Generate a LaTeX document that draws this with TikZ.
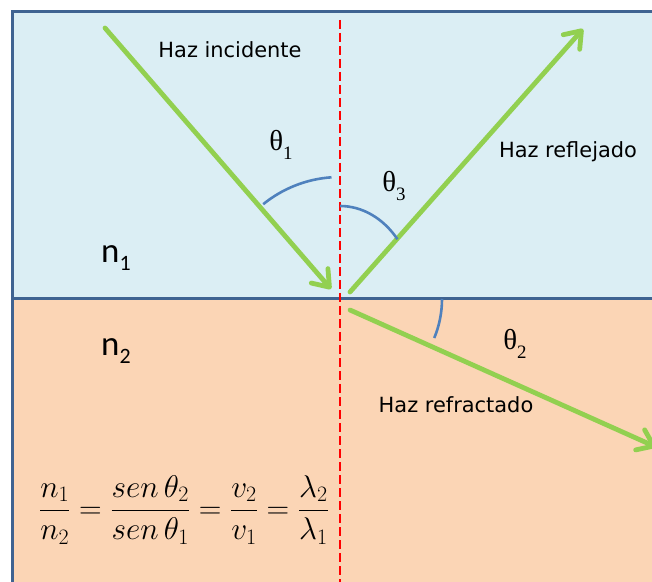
\RequirePackage{fix-cm}
\documentclass[tikz,border=0pt]{standalone}
\usepackage{amsmath}
\usepackage{fontspec}
\usepackage{xcolor}
\usepackage{tikz}
\usetikzlibrary{arrows.meta}

\newfontfamily\hazfont{DejaVu Sans}
\newfontfamily\indexfont{Carlito}
\newfontfamily\anglefont{Liberation Serif}

\definecolor{mediumone}{HTML}{DBEEF4}
\definecolor{mediumtwo}{HTML}{FBD5B5}
\definecolor{borderblue}{HTML}{3F6391}
\definecolor{raygreen}{HTML}{92D050}
\definecolor{arcblue}{HTML}{4F81BD}

\newcommand{\angsym}[1]{{\anglefont\fontsize{29}{32}\selectfont θ\raisebox{-0.3em}{\fontsize{19}{20}\selectfont #1}}}
\newcommand{\nsym}[1]{{\indexfont\fontsize{35}{38}\selectfont n\raisebox{-0.22em}{\fontsize{22}{23}\selectfont #1}}}

\begin{document}
\begin{tikzpicture}[x=1bp,y=1bp,
  ray/.style={raygreen, line width=4.8bp, line cap=round, -{Straight Barb[length=15bp,width=22bp,round]}},
  anglearc/.style={arcblue, line width=2.6bp},
  hazlabel/.style={font=\hazfont\fontsize{21}{24}\selectfont, inner sep=0pt}]
\useasboundingbox (0,0) rectangle (652,582);
\clip (0,0) rectangle (652,582);
\fill[white] (0,0) rectangle (652,582);

% two media
\draw[fill=mediumone, draw=borderblue, line width=3bp] (12,283) rectangle (670,570);
\draw[fill=mediumtwo, draw=borderblue, line width=3bp] (12,-20) rectangle (670,283);

% normal
\coordinate (O) at (340,283);
\coordinate (normal-top) at (340,562);
\coordinate (normal-bottom) at (340,-10);
\draw[red, line width=2.7bp, dash pattern=on 9bp off 4bp] (normal-top) -- (normal-bottom);

% rays
\coordinate (inc-start) at (105,554);
\coordinate (inc-end) at (331,293);
\coordinate (refl-start) at (350,290);
\coordinate (refl-end) at (583,553);
\coordinate (refr-start) at (350,272);
\coordinate (refr-end) at (656,135);
\draw[ray] (inc-start) -- (inc-end);
\draw[ray] (refl-start) -- (refl-end);
\draw[ray] (refr-start) -- (refr-end);

% angles
\draw[anglearc] (O) ++(129:122) arc[start angle=129, end angle=94, radius=122];
\draw[anglearc] ([yshift=93bp]O) arc[start angle=90, end angle=40, x radius=75, y radius=93];
\draw[anglearc] ([xshift=102bp]O) arc[start angle=0, end angle=-22.5, radius=102];

\node (theta1) at (281,437) {\angsym{1}};
\node (theta3) at (394,396) {\angsym{3}};
\node (theta2) at (515,238) {\angsym{2}};

\node[hazlabel] (incidente) at (230,532) {Haz incidente};
\node[hazlabel] (reflejado) at (568,430) {Haz reflejado};
\node[hazlabel] (refractado) at (456,177) {Haz refractado};

\node[anchor=base west, inner sep=0pt] (n1) at (101,319) {\nsym{1}};
\node[anchor=base west, inner sep=0pt] (n2) at (101,226) {\nsym{2}};

\node[font=\fontsize{31.5}{35}\selectfont] (law) at (184,72)
  {$\dfrac{n_1}{n_2}=\dfrac{sen\,\theta_2}{sen\,\theta_1}=\dfrac{v_2}{v_1}=\dfrac{\lambda_2}{\lambda_1}$};
\end{tikzpicture}
\end{document}
